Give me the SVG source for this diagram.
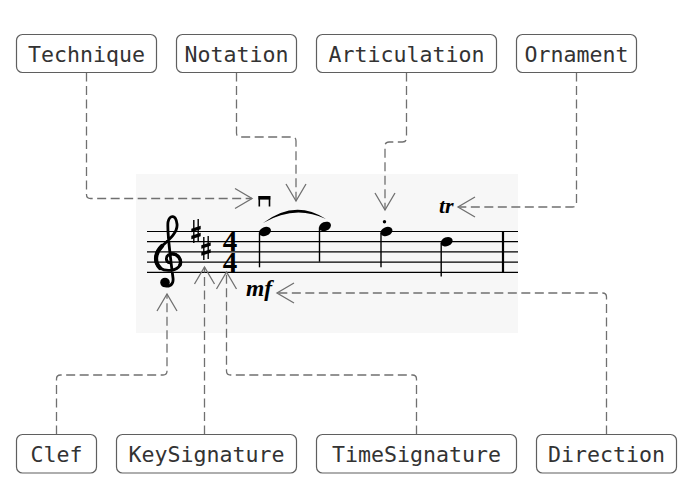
<svg xmlns="http://www.w3.org/2000/svg" width="691" height="498" viewBox="0 0 691 498">
<style>
.box{fill:#ffffff;stroke:#5f5f5f;stroke-width:1.2}
.lbl{font-family:"DejaVu Sans Mono","Liberation Mono",monospace;font-size:21.6px;fill:#333333;text-anchor:middle}
.conn{fill:none;stroke:#707070;stroke-width:1.3;stroke-dasharray:9 4.5}
.staff{stroke:#000;stroke-width:1.2}
.stem{stroke:#000;stroke-width:1.4}
.mus{font-family:"Liberation Serif","DejaVu Serif",serif;font-weight:bold;font-style:italic;fill:#000}
.ts{font-family:"Liberation Serif","DejaVu Serif",serif;font-weight:bold;font-size:29px;text-anchor:middle;fill:#000}
</style>
<defs>
<marker id="arr" markerUnits="userSpaceOnUse" markerWidth="20" markerHeight="22" refX="17" refY="10" orient="auto" overflow="visible">
<path d="M0,0 L17,10 L0,20" fill="none" stroke="#707070" stroke-width="1.3"/>
</marker>
</defs>

<g id="score">
<rect x="136" y="174" width="382" height="159" fill="#f7f7f7"/>
<g id="staff-lines">
<line class="staff" x1="147" y1="231.5" x2="518" y2="231.5"/>
<line class="staff" x1="147" y1="241.7" x2="518" y2="241.7"/>
<line class="staff" x1="147" y1="251.9" x2="518" y2="251.9"/>
<line class="staff" x1="147" y1="262.1" x2="518" y2="262.1"/>
<line class="staff" x1="147" y1="272.3" x2="518" y2="272.3"/>
<line x1="503" y1="231.5" x2="503" y2="272.3" stroke="#000" stroke-width="2.2"/>
</g>
<g id="clef-glyph">
<path d="M170 263 C165 262 165 255 171 254 C178 253 182 260 180 265 C177 271 166 272 160 268 C153 262 155 252 162 246 C170 239 178 232 177 224 C176 215 170 214 168 222 C167 230 170 255 173 278 C174 286 166 289 163 283" fill="none" stroke="#000" stroke-width="2.8" stroke-linecap="round" stroke-linejoin="round"/>
<path d="M160 268 C154 262 155 253 162 246" fill="none" stroke="#000" stroke-width="4.2" stroke-linecap="round"/>
<path d="M171 254 C178 253 182 260 180 265" fill="none" stroke="#000" stroke-width="3.4" stroke-linecap="round"/>
<circle cx="165" cy="282.5" r="4.8" fill="#000"/>
</g>
<g id="key-sharps" fill="#000" stroke="#000">
<line x1="193.8" y1="220" x2="193.8" y2="243" stroke-width="1.4"/>
<line x1="198.2" y1="219" x2="198.2" y2="242" stroke-width="1.4"/>
<polygon points="191.3,228.8 200.7,225.8 200.7,229.3 191.3,232.3" stroke="none"/>
<polygon points="191.3,235.8 200.7,232.8 200.7,236.3 191.3,239.3" stroke="none"/>
<line x1="203.8" y1="237" x2="203.8" y2="260" stroke-width="1.4"/>
<line x1="208.2" y1="236" x2="208.2" y2="259" stroke-width="1.4"/>
<polygon points="201.3,245.3 210.7,242.3 210.7,245.8 201.3,248.8" stroke="none"/>
<polygon points="201.3,252.3 210.7,249.3 210.7,252.8 201.3,255.8" stroke="none"/>
</g>
<g id="time-sig">
<text class="ts" x="230" y="251.3">4</text>
<text class="ts" x="230" y="272.3">4</text>
</g>
<g id="notes" fill="#000">
<ellipse cx="265" cy="231.5" rx="6.2" ry="4.4" transform="rotate(-22 265 231.5)"/>
<line class="stem" x1="259.5" y1="232.5" x2="259.5" y2="267.3"/>
<ellipse cx="325" cy="226.4" rx="6.2" ry="4.4" transform="rotate(-22 325 226.4)"/>
<line class="stem" x1="319.5" y1="227.4" x2="319.5" y2="261.7"/>
<ellipse cx="386.5" cy="231.5" rx="6.2" ry="4.4" transform="rotate(-22 386.5 231.5)"/>
<line class="stem" x1="381" y1="232.5" x2="381" y2="267.3"/>
<circle cx="384.5" cy="221.7" r="1.7"/>
<ellipse cx="446.7" cy="241.7" rx="6.2" ry="4.4" transform="rotate(-22 446.7 241.7)"/>
<line class="stem" x1="441.2" y1="242.7" x2="441.2" y2="276.5"/>
<path d="M263 223 Q295 198.5 326 219 Q295 204 263 223 Z"/>
</g>
<g id="down-bow" fill="#000">
<rect x="258.5" y="196" width="11.8" height="3.6"/>
<rect x="258.5" y="196" width="1.6" height="10.5"/>
<rect x="268.7" y="196" width="1.6" height="10.5"/>
</g>
<text class="mus" x="439" y="212.5" font-size="22">tr</text>
<text class="mus" x="246" y="296" font-size="23.5">mf</text>
</g>

<g id="connectors">
<path class="conn" d="M86.5 72.5 V194.5 Q86.5 198.5 90.5 198.5 H252" marker-end="url(#arr)"/>
<path class="conn" d="M236.5 72.5 V133 Q236.5 137 240.5 137 H292 Q296 137 296 141 V201" marker-end="url(#arr)"/>
<path class="conn" d="M406.5 72.5 V138 Q406.5 142 402.5 142 H389 Q385 142 385 146 V210" marker-end="url(#arr)"/>
<path class="conn" d="M576.5 72.5 V203 Q576.5 207 572.5 207 H458" marker-end="url(#arr)"/>
<path class="conn" d="M56.5 434.5 V379 Q56.5 375 60.5 375 H163 Q167 375 167 371 V294" marker-end="url(#arr)"/>
<path class="conn" d="M204.5 434.5 V267" marker-end="url(#arr)"/>
<path class="conn" d="M416.5 434.5 V379 Q416.5 375 412.5 375 H230.5 Q226.5 375 226.5 371 V272" marker-end="url(#arr)"/>
<path class="conn" d="M606.5 434.5 V297 Q606.5 293 602.5 293 H277" marker-end="url(#arr)"/>
</g>

<g id="Technique"><rect class="box" x="16.5" y="34.5" width="140" height="38" rx="6"/><text class="lbl" x="86.5" y="61.5">Technique</text></g>
<g id="Notation"><rect class="box" x="176.5" y="34.5" width="120" height="38" rx="6"/><text class="lbl" x="236.5" y="61.5">Notation</text></g>
<g id="Articulation"><rect class="box" x="316.5" y="34.5" width="180" height="38" rx="6"/><text class="lbl" x="406.5" y="61.5">Articulation</text></g>
<g id="Ornament"><rect class="box" x="516.5" y="34.5" width="120" height="38" rx="6"/><text class="lbl" x="576.5" y="61.5">Ornament</text></g>
<g id="Clef"><rect class="box" x="16.5" y="434.5" width="80" height="38.5" rx="6"/><text class="lbl" x="56.5" y="462">Clef</text></g>
<g id="KeySignature"><rect class="box" x="116.5" y="434.5" width="180" height="38.5" rx="6"/><text class="lbl" x="206.5" y="462">KeySignature</text></g>
<g id="TimeSignature"><rect class="box" x="316.5" y="434.5" width="200" height="38.5" rx="6"/><text class="lbl" x="416.5" y="462">TimeSignature</text></g>
<g id="Direction"><rect class="box" x="536.5" y="434.5" width="140" height="38.5" rx="6"/><text class="lbl" x="606.5" y="462">Direction</text></g>
</svg>
